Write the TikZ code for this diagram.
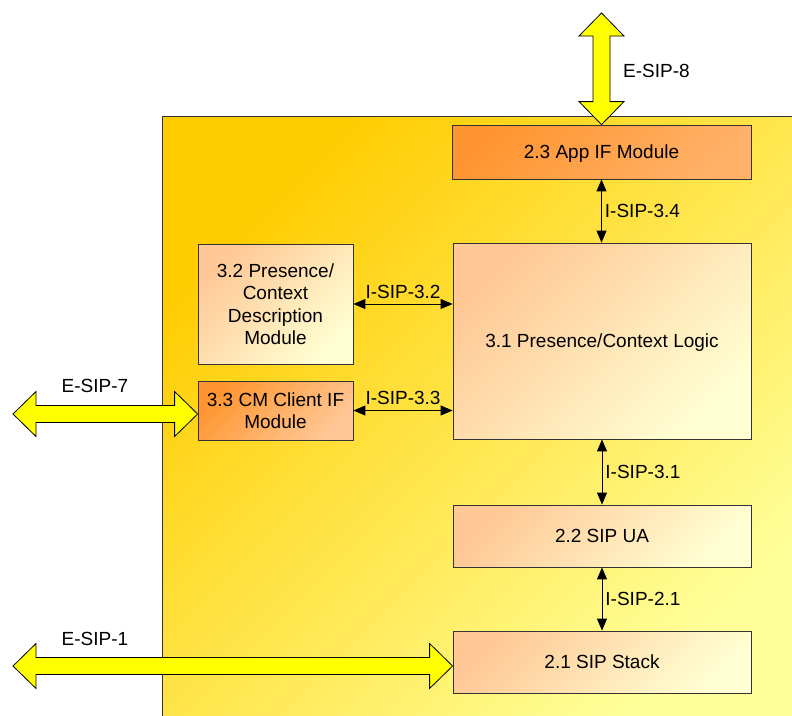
\documentclass[tikz,border=0pt]{standalone}
\usepackage{fontspec}
\setmainfont{Liberation Sans}
\usepackage{tikz}
\usetikzlibrary{arrows.meta,positioning,calc}

\definecolor{bgtop}{HTML}{FFCC00}
\definecolor{bgbot}{HTML}{FFFF99}
\definecolor{peach}{HTML}{FFC896}
\definecolor{pale}{HTML}{FFFFD2}
\definecolor{orng}{HTML}{FF9530}
\definecolor{fatyellow}{HTML}{FFFF00}
\definecolor{edge}{HTML}{333333}

% 太い黄色の両矢印（横向き）：#1 が左端、#2 が右端
\newcommand{\esiph}[2]{%
  \draw[fat] (#1) -- ($(#1)+(23,-22.5)$) -- ($(#1)+(23,-8.5)$) -- ($(#2)+(-23,-8.5)$)
    -- ($(#2)+(-23,-22.5)$) -- (#2) -- ($(#2)+(-23,22.5)$) -- ($(#2)+(-23,8.5)$)
    -- ($(#1)+(23,8.5)$) -- ($(#1)+(23,22.5)$) -- cycle;}
% 太い黄色の両矢印（縦向き）：#1 が上端、#2 が下端
\newcommand{\esipv}[2]{%
  \draw[fat] (#1) -- ($(#1)+(22.5,23)$) -- ($(#1)+(8.5,23)$) -- ($(#2)+(8.5,-23)$)
    -- ($(#2)+(22.5,-23)$) -- (#2) -- ($(#2)+(-22.5,-23)$) -- ($(#2)+(-8.5,-23)$)
    -- ($(#1)+(-8.5,23)$) -- ($(#1)+(-22.5,23)$) -- cycle;}

\begin{document}
\begin{tikzpicture}[x=1pt,y=-1pt,
  box/.style={draw=edge,line width=0.8pt,top color=peach,bottom color=pale,shading angle=45,
    font=\fontsize{19}{22.5}\selectfont,align=center,inner sep=0pt,text depth=0pt},
  orangebox/.style={box,top color=orng,bottom color=peach,shading angle=45},
  lbl/.style={font=\fontsize{19}{22.5}\selectfont,inner sep=2pt},
  isip/.style={{Triangle[length=12pt,width=10pt]}-{Triangle[length=12pt,width=10pt]},line width=0.9pt},
  fat/.style={draw=black,line width=0.8pt,fill=fatyellow,line join=miter}]
  \useasboundingbox (0,0) rectangle (792,715); % 画像全体の大きさ
  \clip (0,0) rectangle (792,715);

  % 背景の黄色いブロック（右下は画像の外まで続く）
  \draw[draw=edge,line width=0.8pt,top color=bgtop,bottom color=bgbot,shading angle=45]
    (162,116) rectangle (800,722);

  % 各モジュール
  \node[orangebox,bottom color=orng!45!peach,shading angle=45,minimum width=299pt,minimum height=54pt] (appif) at (601.5,152) {2.3 App IF Module};
  \node[box,minimum width=298pt,minimum height=196pt] (logic) at (602,341) {3.1 Presence/Context Logic};
  \node[box,minimum width=155pt,minimum height=120pt] (descr) at (275.5,304) {3.2 Presence/\\Context\\Description\\Module};
  \node[orangebox,minimum width=155pt,minimum height=59pt] (cmclient) at (275.5,410.5) {3.3 CM Client IF\\Module};
  \node[box,minimum width=298pt,minimum height=62pt] (sipua) at (602,536) {2.2 SIP UA};
  \node[box,minimum width=298pt,minimum height=62pt] (stack) at (602,662) {2.1 SIP Stack};

  % 内部インタフェース
  \draw[isip] (appif.south) -- (appif.south |- logic.north) node[midway,right=1pt,lbl] {I-SIP-3.4};
  \draw[isip] (descr.east) -- (descr.east -| logic.west) node[midway,above=3pt,lbl] {I-SIP-3.2};
  \draw[isip] (cmclient.east) -- (cmclient.east -| logic.west) node[midway,above=3pt,lbl] {I-SIP-3.3};
  \draw[isip] (logic.south) -- (sipua.north) node[midway,right=1pt,lbl] {I-SIP-3.1};
  \draw[isip] (sipua.south) -- (stack.north) node[midway,right=1pt,lbl] {I-SIP-2.1};

  % 外部インタフェース（太い黄色の矢印）
  \coordinate (esipeighttop) at (601.5,13);
  \esipv{esipeighttop}{appif.north}
  \coordinate (esipsevenend) at (13,414);
  \coordinate (esipsevenin) at (esipsevenend -| cmclient.west);
  \esiph{esipsevenend}{esipsevenin}
  \coordinate (esiponeend) at (13,666);
  \coordinate (esiponein) at (esiponeend -| stack.west);
  \esiph{esiponeend}{esiponein}

  \node[lbl,anchor=west] (esipeightlbl) at (621,71) {E-SIP-8};
  \node[lbl] (esipsevenlbl) at (95,386) {E-SIP-7};
  \node[lbl] (esiponelbl) at (95,639) {E-SIP-1};
\end{tikzpicture}
\end{document}
